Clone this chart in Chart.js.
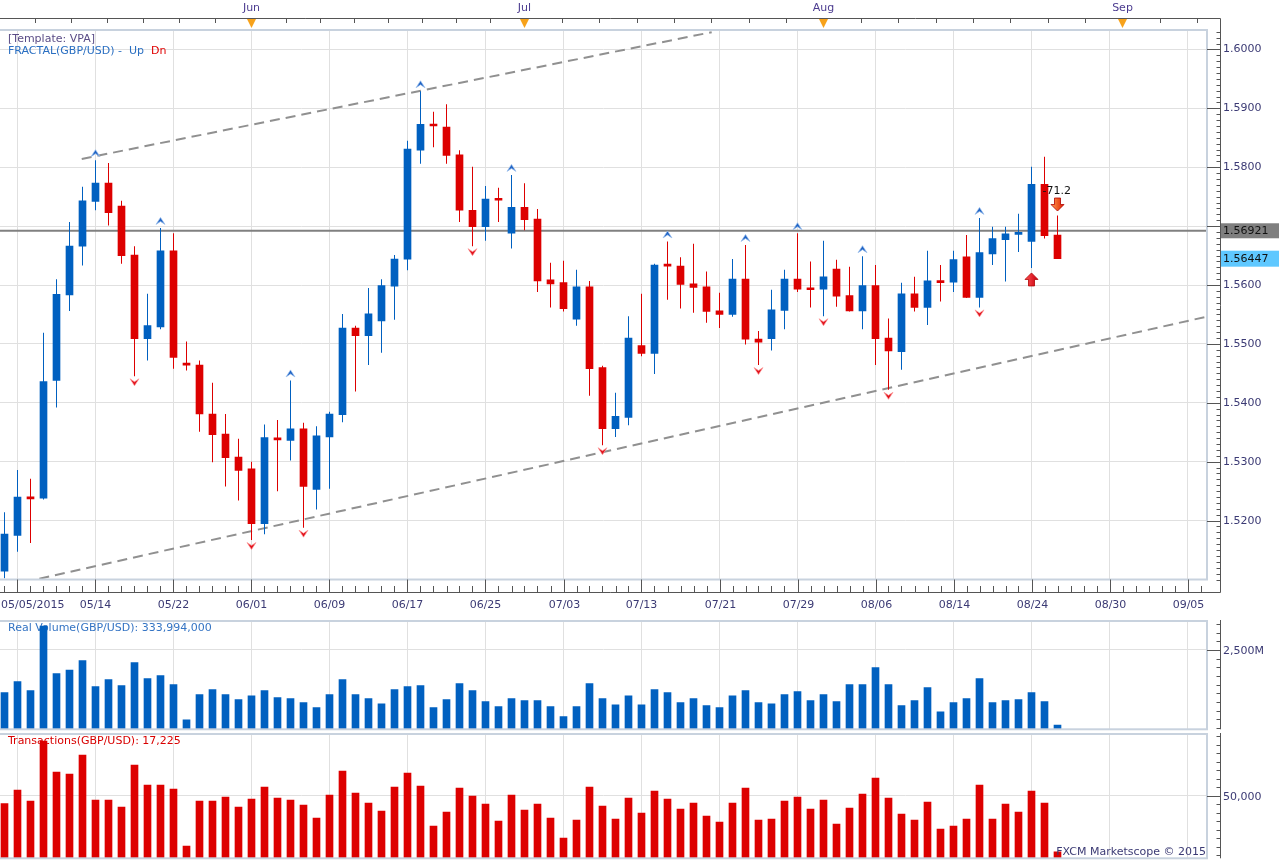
<!DOCTYPE html>
<html>
<head>
<meta charset="utf-8">
<script src="https://cdn.jsdelivr.net/npm/chart.js@4.4.1/dist/chart.umd.min.js"></script>
<style>
  body { margin: 0; background: #fff; width: 1279px; height: 860px; overflow: hidden; position: relative; }
  canvas { position: absolute; left: 0; }
  #main { top: 0; }
  #vol { top: 618px; }
  #trx { top: 731px; }
</style>
</head>
<body>
<canvas id="main" width="1279" height="620"></canvas>
<canvas id="vol" width="1279" height="113"></canvas>
<canvas id="trx" width="1279" height="129"></canvas>
<script>
// ---- data ----
const days = ['05/05','05/06','05/07','05/08','05/11','05/12','05/13','05/14','05/15','05/18','05/19','05/20','05/21','05/22','05/25','05/26','05/27','05/28','05/29',
  '06/01','06/02','06/03','06/04','06/05','06/08','06/09','06/10','06/11','06/12','06/15','06/16','06/17','06/18','06/19','06/22','06/23','06/24','06/25','06/26','06/29','06/30',
  '07/01','07/02','07/03','07/06','07/07','07/08','07/09','07/10','07/13','07/14','07/15','07/16','07/17','07/20','07/21','07/22','07/23','07/24','07/27','07/28','07/29','07/30','07/31',
  '08/03','08/04','08/05','08/06','08/07','08/10','08/11','08/12','08/13','08/14','08/17','08/18','08/19','08/20','08/21','08/24','08/25','08/26'];

const opens = [1.5114,1.5175,1.5239,1.5238,1.5438,1.5583,1.5666,1.5742,1.5773,1.5734,
  1.5651,1.5509,1.5529,1.5658,1.5466,1.5464,1.5381,1.5347,1.5308,1.5288,
  1.5195,1.5339,1.5336,1.5356,1.5253,1.5342,1.5380,1.5527,1.5514,1.5539,
  1.5598,1.5644,1.5829,1.5872,1.5868,1.5821,1.5727,1.5699,1.5746,1.5688,
  1.5732,1.5712,1.5609,1.5604,1.5542,1.5597,1.5460,1.5356,1.5375,1.5497,
  1.5484,1.5634,1.5632,1.5602,1.5597,1.5556,1.5550,1.5610,1.5508,1.5509,
  1.5557,1.5610,1.5594,1.5593,1.5627,1.5582,1.5556,1.5599,1.5510,1.5487,
  1.5585,1.5562,1.5606,1.5605,1.5648,1.5579,1.5653,1.5677,1.5686,1.5674,
  1.5771,1.5685];
const highs = [1.5214,1.5286,1.5271,1.5519,1.5610,1.5707,1.5767,1.5812,1.5807,1.5743,
  1.5666,1.5585,1.5697,1.5688,1.5504,1.5472,1.5434,1.5381,1.5339,1.5300,
  1.5363,1.5371,1.5438,1.5366,1.5360,1.5385,1.5551,1.5531,1.5595,1.5610,
  1.5651,1.5845,1.5929,1.5894,1.5907,1.5829,1.5801,1.5768,1.5765,1.5787,
  1.5773,1.5729,1.5638,1.5641,1.5626,1.5607,1.5463,1.5417,1.5547,1.5585,
  1.5636,1.5674,1.5647,1.5670,1.5623,1.5587,1.5644,1.5668,1.5522,1.5592,
  1.5626,1.5688,1.5640,1.5675,1.5643,1.5631,1.5649,1.5634,1.5543,1.5604,
  1.5614,1.5658,1.5634,1.5658,1.5685,1.5714,1.5699,1.5699,1.5721,1.5801,
  1.5818,1.5718];
const lows = [1.5102,1.5147,1.5162,1.5236,1.5392,1.5556,1.5633,1.5727,1.5701,1.5636,
  1.5445,1.5472,1.5525,1.5458,1.5455,1.5351,1.5299,1.5258,1.5234,1.5167,
  1.5177,1.5250,1.5302,1.5188,1.5219,1.5254,1.5367,1.5419,1.5464,1.5485,
  1.5541,1.5625,1.5806,1.5834,1.5806,1.5707,1.5666,1.5675,1.5707,1.5662,
  1.5693,1.5588,1.5562,1.5555,1.5531,1.5412,1.5328,1.5342,1.5362,1.5479,
  1.5449,1.5575,1.5560,1.5553,1.5536,1.5527,1.5546,1.5499,1.5464,1.5489,
  1.5525,1.5588,1.5562,1.5547,1.5563,1.5555,1.5525,1.5464,1.5422,1.5456,
  1.5555,1.5532,1.5572,1.5588,1.5578,1.5562,1.5634,1.5606,1.5656,1.5629,
  1.5679,1.5644];
const closes = [1.5177,1.5240,1.5237,1.5436,1.5584,1.5666,1.5743,1.5773,1.5723,1.5650,
  1.5509,1.5531,1.5658,1.5477,1.5464,1.5381,1.5346,1.5307,1.5285,1.5195,
  1.5341,1.5337,1.5356,1.5258,1.5344,1.5381,1.5527,1.5514,1.5551,1.5599,
  1.5644,1.5831,1.5873,1.5870,1.5820,1.5727,1.5699,1.5746,1.5744,1.5732,
  1.5711,1.5607,1.5602,1.5560,1.5597,1.5458,1.5356,1.5377,1.5510,1.5484,
  1.5634,1.5632,1.5601,1.5596,1.5555,1.5550,1.5610,1.5508,1.5503,1.5558,
  1.5610,1.5593,1.5592,1.5614,1.5581,1.5556,1.5599,1.5509,1.5488,1.5585,
  1.5562,1.5607,1.5604,1.5643,1.5579,1.5655,1.5679,1.5687,1.5688,1.5771,
  1.5684,1.56447];

// real volume, millions
const volumeM = [1267,1585,1325,3193,1816,1923,2191,1440,1643,1469,
  2133,1671,1758,1498,487,1209,1354,1209,1065,1180,
  1325,1123,1094,978,834,1209,1643,1209,1094,949,
  1354,1440,1469,834,1065,1527,1325,1007,863,1094,
  1036,1036,863,574,863,1527,1094,920,1180,920,
  1354,1267,978,1094,892,834,1180,1325,978,949,
  1209,1296,1036,1209,1007,1498,1498,1989,1498,892,
  1036,1411,718,978,1094,1671,978,1036,1065,1267,
  1007,334];
const trades = [45470,53530,47050,82350,64110,62940,74110,47640,47640,43530,
  68230,56470,56470,54110,20590,47050,47050,49410,43530,48230,
  55290,48820,47640,44700,37050,50580,64700,51760,45880,41170,
  55290,63520,55880,32350,40580,54700,50000,45290,35290,50580,
  41760,45290,37050,25290,35880,55290,44110,36470,48820,40000,
  52940,48230,42350,45880,38230,34700,45880,54700,35880,36470,
  47050,49410,42350,47640,33530,42940,51170,60580,48820,39410,
  35880,46470,30580,32350,36470,56470,36470,45290,40580,52940,
  45880,17225];

const fracUp = [7, 12, 22, 32, 39, 51, 57, 61, 66, 75];
const fracDn = [10, 19, 23, 36, 46, 58, 63, 68, 75];

const upperTrend = [{ x: 5.94, y: 1.58141 }, { x: 54.4, y: 1.60293 }];
const lowerTrend = [{ x: 2.68, y: 1.51014 }, { x: 92.5, y: 1.55464 }];
const linePrice = 1.56921;
const bidPrice = 1.56447;
const signalText = '-71.2';

const priceTicks = [1.52, 1.53, 1.54, 1.55, 1.56, 1.57, 1.58, 1.59, 1.60];
const priceLabels = ['1.5200', '1.5300', '1.5400', '1.5500', '1.5600', '1.5700', '1.5800', '1.5900', '1.6000'];
const tickIdx = [1, 7, 13, 19, 25, 31, 37, 43, 49, 55, 61, 67, 73, 79, 85, 91];
const tickText = ['05/05/2015', '05/14', '05/22', '06/01', '06/09', '06/17', '06/25', '07/03',
  '07/13', '07/21', '07/29', '08/06', '08/14', '08/24', '08/30', '09/05'];
const monthEdges = [-3.18, 19, 40, 63, 86, 109];
const monthText = ['', 'Jun', 'Jul', 'Aug', 'Sep'];

// ---- look ----
const BLUE = '#0060c0', RED = '#dd0000';
const GRID = '#e0e0e0', FRAME = '#c8d2de', TICK = '#555555', AXIS_TXT = '#3b3a74';
const FONT = '11px "DejaVu Sans", Verdana, sans-serif';
const X_MIN = 92.5 - 1207 / 13, X_MAX = 92.5;
const AX_X = 1220.5;

const candleColors = closes.map((c, i) => c >= opens[i] ? BLUE : RED);

function xAxisOpts(h) {
  return {
    type: 'linear', min: X_MIN, max: X_MAX, offset: false,
    afterBuildTicks: s => { s.ticks = tickIdx.map(v => ({ value: v })); },
    afterFit: s => { s.height = h; },
    grid: { color: GRID, drawTicks: false, offset: false },
    border: { display: false },
    ticks: { display: false }
  };
}

function yAxisOpts(min, max, lines) {
  return {
    position: 'right', min: min, max: max,
    afterBuildTicks: s => { s.ticks = lines.map(v => ({ value: v })); },
    afterFit: s => { s.width = 72; },
    grid: { color: GRID, drawTicks: false },
    border: { display: false },
    ticks: { display: false }
  };
}

function seg(ctx, x1, y1, x2, y2) {
  ctx.beginPath(); ctx.moveTo(x1, y1); ctx.lineTo(x2, y2); ctx.stroke();
}

function text(ctx, s, x, y, color, align) {
  ctx.font = FONT;
  ctx.fillStyle = color;
  ctx.textAlign = align || 'left';
  ctx.textBaseline = 'middle';
  ctx.fillText(s, x, y);
}

function chevron(ctx, x, y, up) {
  const d = up ? 1 : -1;
  ctx.beginPath();
  ctx.moveTo(x - 4.5, y + 3.5 * d);
  ctx.lineTo(x, y - 3.5 * d);
  ctx.lineTo(x + 4.5, y + 3.5 * d);
  ctx.lineTo(x, y + 0.5 * d);
  ctx.closePath();
  ctx.fillStyle = up ? '#1f63c4' : '#e0101a';
  ctx.fill();
  ctx.strokeStyle = up ? '#9cc0ee' : '#ff9a9a';
  ctx.lineWidth = 0.7;
  ctx.stroke();
}

function blockArrow(ctx, cx, tipY, dir, light, dark) {
  // dir 1 = pointing down, -1 = pointing up
  const base = tipY - dir * 13, neck = tipY - dir * 6.5;
  ctx.beginPath();
  ctx.moveTo(cx - 3, base); ctx.lineTo(cx + 3, base); ctx.lineTo(cx + 3, neck);
  ctx.lineTo(cx + 6.5, neck); ctx.lineTo(cx, tipY); ctx.lineTo(cx - 6.5, neck);
  ctx.lineTo(cx - 3, neck); ctx.closePath();
  const g = ctx.createLinearGradient(cx - 6, 0, cx + 6, 0);
  g.addColorStop(0, light); g.addColorStop(1, dark);
  ctx.fillStyle = g; ctx.fill();
  ctx.strokeStyle = '#b00000'; ctx.lineWidth = 0.8; ctx.stroke();
}

function rightTicks(ctx, y, minorVals, top, bottom) {
  ctx.strokeStyle = TICK; ctx.lineWidth = 1;
  seg(ctx, AX_X, top, AX_X, bottom);
  minorVals.forEach(v => {
    const py = Math.round(y.getPixelForValue(v)) + 0.5;
    if (py > top && py < bottom) seg(ctx, AX_X - 4, py, AX_X, py);
  });
}

// ---- main price panel decorations ----
const mainDeco = {
  id: 'mainDeco',
  afterDatasetsDraw(chart) {
    const { ctx, scales: { x, y } } = chart;
    ctx.save();
    fracUp.forEach(i => chevron(ctx, x.getPixelForValue(i), y.getPixelForValue(highs[i]) - 7, true));
    fracDn.forEach(i => chevron(ctx, x.getPixelForValue(i), y.getPixelForValue(lows[i]) + 6, false));
    const last = closes.length - 1;
    blockArrow(ctx, x.getPixelForValue(last), y.getPixelForValue(highs[last]) - 4.5, 1, '#ff9a50', '#e02000');
    blockArrow(ctx, x.getPixelForValue(last - 2), y.getPixelForValue(lows[last - 2]) + 5, -1, '#ff5050', '#c80010');
    text(ctx, signalText, x.getPixelForValue(last) - 15, y.getPixelForValue(highs[last]) - 24.5, '#111');
    ctx.restore();
  },
  afterDraw(chart) {
    const { ctx, chartArea: a, scales: { x, y } } = chart;
    ctx.save();
    // plot frame
    ctx.strokeStyle = FRAME; ctx.lineWidth = 2;
    ctx.strokeRect(-1, a.top, a.right + 1, a.bottom - a.top);

    // top (month) axis
    ctx.strokeStyle = TICK; ctx.lineWidth = 1;
    seg(ctx, 0, 18.5, AX_X, 18.5);
    for (let m = 0; m < monthEdges.length - 1; m++) {
      const step = (monthEdges[m + 1] - monthEdges[m]) / 8;
      for (let k = 1; k < 8; k++) {
        const px = Math.round(x.getPixelForValue(monthEdges[m] + k * step)) + 0.5;
        if (px > 0 && px < a.right) seg(ctx, px, 18.5, px, 23);
      }
    }
    monthText.forEach((t, m) => {
      if (!t) return;
      const px = x.getPixelForValue(monthEdges[m]);
      text(ctx, t, px, 8, '#4b3b8f', 'center');
      ctx.beginPath();
      ctx.moveTo(px - 4.5, 19); ctx.lineTo(px + 4.5, 19); ctx.lineTo(px, 28); ctx.closePath();
      ctx.fillStyle = '#f7a21b'; ctx.fill();
    });

    // right price axis
    const minor = [];
    for (let k = 1510; k <= 1603; k++) minor.push(k / 1000);
    rightTicks(ctx, y, minor, 18.5, 592.5);
    const pl = y.getPixelForValue(linePrice);
    priceTicks.forEach((v, i) => {
      const py = Math.round(y.getPixelForValue(v)) + 0.5;
      ctx.strokeStyle = TICK;
      seg(ctx, a.right, py, AX_X, py);
      if (Math.abs(py - pl) > 12) text(ctx, priceLabels[i], 1223, py, AXIS_TXT);
    });

    // bottom date axis
    ctx.strokeStyle = TICK;
    seg(ctx, 0, 592.5, AX_X, 592.5);
    for (let i = 0; i <= 92; i++) {
      const px = Math.round(x.getPixelForValue(i)) + 0.5;
      seg(ctx, px, 586, px, 592.5);
    }
    ctx.font = FONT;
    tickIdx.forEach((v, i) => {
      const px = Math.round(x.getPixelForValue(v)) + 0.5;
      seg(ctx, px, a.bottom, px, 592.5);
      const w = ctx.measureText(tickText[i]).width;
      text(ctx, tickText[i], Math.max(px, w / 2 + 1), 605.5, AXIS_TXT, 'center');
    });

    // price boxes
    ctx.fillStyle = '#7f7f7f'; ctx.fillRect(1221, pl - 7.5, 58, 15);
    text(ctx, linePrice.toFixed(5), 1223, pl + 0.5, '#111');
    const pb = y.getPixelForValue(bidPrice);
    ctx.fillStyle = '#5fc8ff'; ctx.fillRect(1221, pb - 8, 58, 16);
    text(ctx, bidPrice.toFixed(5), 1223, pb + 0.5, '#111');

    // legend
    text(ctx, '[Template: VPA]', 8, 39, '#5a4c86');
    ctx.font = FONT;
    const lead = 'FRACTAL(GBP/USD) -  Up  ';
    text(ctx, lead, 8, 51, '#2a6fc2');
    text(ctx, 'Dn', 8 + ctx.measureText(lead).width, 51, '#e00000');
    ctx.restore();
  }
};

new Chart(document.getElementById('main'), {
  type: 'bar',
  data: {
    datasets: [
      { type: 'line', data: upperTrend, borderColor: '#909090', borderWidth: 2, borderDash: [10, 6], pointRadius: 0, order: 5 },
      { type: 'line', data: lowerTrend, borderColor: '#909090', borderWidth: 2, borderDash: [10, 6], pointRadius: 0, order: 5 },
      { type: 'line', data: [{ x: X_MIN, y: linePrice }, { x: X_MAX, y: linePrice }], borderColor: '#808080', borderWidth: 2, pointRadius: 0, order: 4 },
      { label: 'wick', data: highs.map((h, i) => ({ x: i, y: [lows[i], h] })), backgroundColor: candleColors,
        barThickness: 1, inflateAmount: 0, grouped: false, order: 2 },
      { label: 'body', data: opens.map((o, i) => ({ x: i, y: [o, closes[i]] })), backgroundColor: candleColors,
        barThickness: 7, minBarLength: 2, grouped: false, order: 1 }
    ]
  },
  options: {
    responsive: false, animation: false, events: [],
    layout: { padding: { top: 30, left: 0, right: 0, bottom: 0 } },
    plugins: { legend: { display: false }, tooltip: { enabled: false } },
    scales: { x: xAxisOpts(40.5), y: yAxisOpts(1.51, 1.6033, priceTicks) }
  },
  plugins: [mainDeco]
});

// ---- lower panels ----
function panelDeco(id, o) {
  return {
    id: id,
    beforeDatasetsDraw(chart) {
      const { ctx, chartArea: a } = chart;
      ctx.save();
      text(ctx, o.title, 8, a.top + 7.5, o.titleColor);
      ctx.restore();
    },
    afterDraw(chart) {
      const { ctx, chartArea: a, scales: { y } } = chart;
      ctx.save();
      ctx.strokeStyle = FRAME; ctx.lineWidth = 2;
      ctx.strokeRect(-1, a.top, a.right + 1, a.bottom - a.top);
      rightTicks(ctx, y, o.minor, a.top - 1, a.bottom);
      const py = Math.round(y.getPixelForValue(o.major)) + 0.5;
      ctx.strokeStyle = TICK;
      seg(ctx, a.right, py, AX_X, py);
      text(ctx, o.majorText, 1223, py + 0.5, AXIS_TXT);
      if (o.footer) text(ctx, o.footer, 1206, a.bottom - 6.5, AXIS_TXT, 'right');
      ctx.restore();
    }
  };
}

function panel(id, values, color, min, max, major, padTop, fitH, deco) {
  new Chart(document.getElementById(id), {
    type: 'bar',
    data: { datasets: [{ data: values.map((v, i) => ({ x: i, y: v })), backgroundColor: color, barThickness: 7, grouped: false }] },
    options: {
      responsive: false, animation: false, events: [],
      layout: { padding: { top: padTop, left: 0, right: 0, bottom: 0 } },
      plugins: { legend: { display: false }, tooltip: { enabled: false } },
      scales: { x: xAxisOpts(fitH), y: yAxisOpts(min, max, [major]) }
    },
    plugins: [deco]
  });
}

const volMinor = [];
for (let v = 250; v <= 3250; v += 250) volMinor.push(v);
panel('vol', volumeM, BLUE, 210, 3337, 2500, 3, 1.7, panelDeco('volDeco', {
  title: 'Real Volume(GBP/USD): 333,994,000', titleColor: '#3474c4',
  minor: volMinor, major: 2500, majorText: '2,500M'
}));

const trxMinor = [];
for (let v = 15000; v <= 85000; v += 5000) trxMinor.push(v);
panel('trx', trades, RED, 13350, 86470, 50000, 3, 1.7, panelDeco('trxDeco', {
  title: 'Transactions(GBP/USD): 17,225', titleColor: '#d80000',
  minor: trxMinor, major: 50000, majorText: '50,000', footer: 'FXCM Marketscope \u00a9 2015'
}));
</script>
</body>
</html>
